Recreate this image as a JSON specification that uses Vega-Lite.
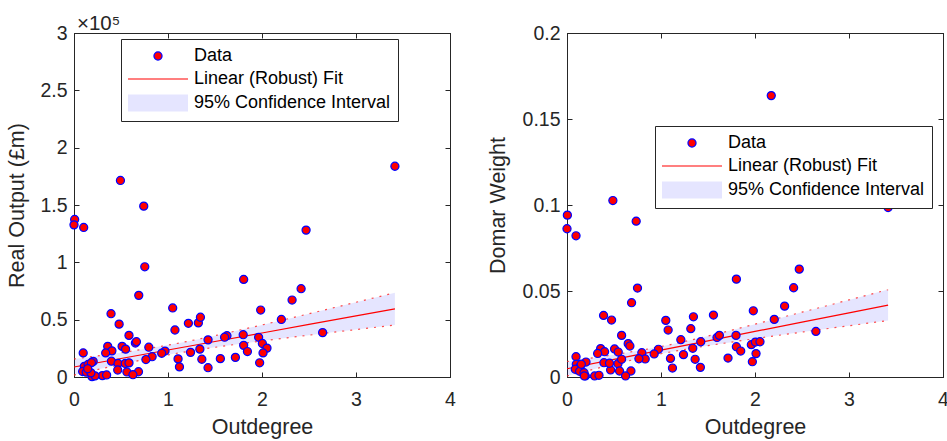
{
  "$schema": "https://vega.github.io/schema/vega-lite/v6.json",
  "padding": {"left": 6, "top": 13, "right": 0, "bottom": 0},
  "spacing": 30,
  "config": {
    "font": "Liberation Sans",
    "view": {"stroke": "#262626", "strokeWidth": 1},
    "axis": {
      "labelFont": "Liberation Sans", "titleFont": "Liberation Sans",
      "labelFontSize": 19.5, "titleFontSize": 21.5, "titleFontWeight": "normal",
      "labelColor": "#262626", "titleColor": "#262626",
      "domainColor": "#262626", "tickColor": "#262626",
      "gridColor": "#dfdfdf", "gridWidth": 1, "tickSize": -5,
      "labelFlush": false, "labelOverlap": false
    },
    "axisX": {"labelPadding": 18, "titlePadding": 8},
    "axisY": {"labelPadding": 12}
  },
  "datasets": {
    "outPts": [
      {"x":0.007,"y":137400,"series":"Data"},{"x":0.0,"y":132700,"series":"Data"},{"x":0.103,"y":130400,"series":"Data"},
      {"x":0.494,"y":171400,"series":"Data"},{"x":0.742,"y":149000,"series":"Data"},{"x":0.753,"y":96100,"series":"Data"},
      {"x":3.414,"y":183800,"series":"Data"},{"x":2.469,"y":128100,"series":"Data"},{"x":1.805,"y":85100,"series":"Data"},
      {"x":2.416,"y":77000,"series":"Data"},{"x":2.320,"y":67100,"series":"Data"},{"x":0.689,"y":71200,"series":"Data"},
      {"x":1.050,"y":60200,"series":"Data"},{"x":1.986,"y":58400,"series":"Data"},{"x":2.206,"y":50200,"series":"Data"},
      {"x":0.394,"y":55200,"series":"Data"},{"x":0.480,"y":46100,"series":"Data"},{"x":1.217,"y":46800,"series":"Data"},
      {"x":1.323,"y":47200,"series":"Data"},{"x":1.345,"y":52100,"series":"Data"},{"x":1.074,"y":41000,"series":"Data"},
      {"x":2.645,"y":38700,"series":"Data"},{"x":0.585,"y":36300,"series":"Data"},{"x":1.426,"y":32400,"series":"Data"},
      {"x":1.627,"y":36000,"series":"Data"},{"x":1.602,"y":34700,"series":"Data"},{"x":1.800,"y":36900,"series":"Data"},
      {"x":1.964,"y":34600,"series":"Data"},{"x":2.004,"y":29200,"series":"Data"},{"x":1.805,"y":27600,"series":"Data"},
      {"x":0.653,"y":29600,"series":"Data"},{"x":0.664,"y":30800,"series":"Data"},{"x":0.796,"y":26000,"series":"Data"},
      {"x":0.359,"y":26700,"series":"Data"},{"x":0.403,"y":22800,"series":"Data"},{"x":0.337,"y":21000,"series":"Data"},
      {"x":0.512,"y":26700,"series":"Data"},{"x":0.549,"y":24300,"series":"Data"},{"x":0.098,"y":21000,"series":"Data"},
      {"x":1.339,"y":24300,"series":"Data"},{"x":1.240,"y":21500,"series":"Data"},{"x":0.968,"y":22600,"series":"Data"},
      {"x":0.933,"y":20700,"series":"Data"},{"x":2.053,"y":25200,"series":"Data"},{"x":1.845,"y":22200,"series":"Data"},
      {"x":2.011,"y":21000,"series":"Data"},{"x":0.831,"y":17700,"series":"Data"},{"x":0.765,"y":15200,"series":"Data"},
      {"x":1.107,"y":15800,"series":"Data"},{"x":1.360,"y":15500,"series":"Data"},{"x":1.557,"y":16000,"series":"Data"},
      {"x":1.717,"y":17100,"series":"Data"},{"x":0.398,"y":13800,"series":"Data"},{"x":0.204,"y":13600,"series":"Data"},
      {"x":0.469,"y":11800,"series":"Data"},{"x":0.545,"y":11800,"series":"Data"},{"x":0.585,"y":12300,"series":"Data"},
      {"x":1.975,"y":12400,"series":"Data"},{"x":1.122,"y":8800,"series":"Data"},{"x":1.426,"y":8100,"series":"Data"},
      {"x":0.465,"y":6100,"series":"Data"},{"x":0.563,"y":4400,"series":"Data"},{"x":0.686,"y":4600,"series":"Data"},
      {"x":0.627,"y":2000,"series":"Data"},{"x":0.302,"y":1200,"series":"Data"},{"x":0.347,"y":1800,"series":"Data"},
      {"x":0.192,"y":300,"series":"Data"},{"x":0.224,"y":1000,"series":"Data"},{"x":0.110,"y":9300,"series":"Data"},
      {"x":0.150,"y":10900,"series":"Data"},{"x":0.185,"y":12500,"series":"Data"},{"x":0.092,"y":4800,"series":"Data"},
      {"x":0.130,"y":4200,"series":"Data"},{"x":0.180,"y":3600,"series":"Data"},{"x":0.146,"y":7200,"series":"Data"}
    ],
    "outFit": [
      {"x":0,"fit":8700,"lo":1700,"hi":15700},{"x":0.5,"fit":16130,"lo":11050,"hi":21210},
      {"x":1,"fit":23550,"lo":19300,"hi":27800},{"x":1.5,"fit":30980,"lo":25900,"hi":36060},
      {"x":2,"fit":38400,"lo":31400,"hi":45400},{"x":2.5,"fit":45830,"lo":36470,"hi":55190},
      {"x":3,"fit":53250,"lo":41350,"hi":65150},{"x":3.414,"fit":59400,"lo":45320,"hi":73480}
    ],
    "domPts": [
      {"x":2.173,"y":0.1636,"series":"Data"},{"x":0.488,"y":0.1026,"series":"Data"},{"x":3.416,"y":0.0985,"series":"Data"},
      {"x":0.004,"y":0.0941,"series":"Data"},{"x":0.0,"y":0.0862,"series":"Data"},{"x":0.096,"y":0.0821,"series":"Data"},
      {"x":0.736,"y":0.0906,"series":"Data"},{"x":0.750,"y":0.0517,"series":"Data"},{"x":1.802,"y":0.0569,"series":"Data"},
      {"x":2.471,"y":0.0627,"series":"Data"},{"x":2.411,"y":0.0519,"series":"Data"},{"x":2.315,"y":0.0412,"series":"Data"},
      {"x":0.687,"y":0.0432,"series":"Data"},{"x":0.389,"y":0.0358,"series":"Data"},{"x":0.474,"y":0.0331,"series":"Data"},
      {"x":1.051,"y":0.0329,"series":"Data"},{"x":1.076,"y":0.0273,"series":"Data"},{"x":1.345,"y":0.0350,"series":"Data"},
      {"x":1.558,"y":0.0360,"series":"Data"},{"x":1.982,"y":0.0385,"series":"Data"},{"x":2.205,"y":0.0335,"series":"Data"},
      {"x":2.648,"y":0.0265,"series":"Data"},{"x":1.317,"y":0.0281,"series":"Data"},{"x":0.581,"y":0.0242,"series":"Data"},
      {"x":1.211,"y":0.0217,"series":"Data"},{"x":1.423,"y":0.0205,"series":"Data"},{"x":1.596,"y":0.0230,"series":"Data"},
      {"x":1.621,"y":0.0242,"series":"Data"},{"x":1.798,"y":0.0242,"series":"Data"},{"x":1.961,"y":0.0188,"series":"Data"},
      {"x":2.004,"y":0.0203,"series":"Data"},{"x":2.053,"y":0.0205,"series":"Data"},{"x":1.802,"y":0.0176,"series":"Data"},
      {"x":1.848,"y":0.0151,"series":"Data"},{"x":2.011,"y":0.0136,"series":"Data"},{"x":1.972,"y":0.0089,"series":"Data"},
      {"x":1.338,"y":0.0167,"series":"Data"},{"x":1.239,"y":0.0130,"series":"Data"},{"x":0.973,"y":0.0161,"series":"Data"},
      {"x":0.927,"y":0.0134,"series":"Data"},{"x":0.796,"y":0.0141,"series":"Data"},{"x":0.832,"y":0.0105,"series":"Data"},
      {"x":0.765,"y":0.0106,"series":"Data"},{"x":1.101,"y":0.0108,"series":"Data"},{"x":1.122,"y":0.0052,"series":"Data"},
      {"x":1.363,"y":0.0103,"series":"Data"},{"x":1.419,"y":0.0056,"series":"Data"},{"x":1.713,"y":0.0110,"series":"Data"},
      {"x":0.651,"y":0.0194,"series":"Data"},{"x":0.669,"y":0.0180,"series":"Data"},{"x":0.358,"y":0.0165,"series":"Data"},
      {"x":0.400,"y":0.0147,"series":"Data"},{"x":0.326,"y":0.0137,"series":"Data"},{"x":0.506,"y":0.0163,"series":"Data"},
      {"x":0.545,"y":0.0145,"series":"Data"},{"x":0.096,"y":0.0118,"series":"Data"},{"x":0.393,"y":0.0083,"series":"Data"},
      {"x":0.464,"y":0.0041,"series":"Data"},{"x":0.542,"y":0.0077,"series":"Data"},{"x":0.581,"y":0.0103,"series":"Data"},
      {"x":0.559,"y":0.0035,"series":"Data"},{"x":0.680,"y":0.0035,"series":"Data"},{"x":0.623,"y":0.0006,"series":"Data"},
      {"x":0.294,"y":0.0006,"series":"Data"},{"x":0.340,"y":0.0010,"series":"Data"},{"x":0.195,"y":0.0006,"series":"Data"},
      {"x":0.099,"y":0.0074,"series":"Data"},{"x":0.142,"y":0.0064,"series":"Data"},{"x":0.202,"y":0.0087,"series":"Data"},
      {"x":0.088,"y":0.0045,"series":"Data"},{"x":0.134,"y":0.0033,"series":"Data"},{"x":0.181,"y":0.0025,"series":"Data"},
      {"x":0.184,"y":0.0006,"series":"Data"},{"x":0.152,"y":0.0074,"series":"Data"},{"x":0.452,"y":0.0080,"series":"Data"}
    ],
    "domFit": [
      {"x":0,"fit":0.0048,"lo":0.0006,"hi":0.0090},{"x":0.5,"fit":0.0102,"lo":0.0074,"hi":0.0130},
      {"x":1,"fit":0.0156,"lo":0.0135,"hi":0.0177},{"x":1.5,"fit":0.0210,"lo":0.0182,"hi":0.0238},
      {"x":2,"fit":0.0265,"lo":0.0223,"hi":0.0307},{"x":2.5,"fit":0.0319,"lo":0.0261,"hi":0.0377},
      {"x":3,"fit":0.0373,"lo":0.0298,"hi":0.0448},{"x":3.416,"fit":0.0418,"lo":0.0328,"hi":0.0508}
    ]
  },
  "hconcat": [
    {
      "width": 376, "height": 344,
      "title": {"text": "×10⁵", "anchor": "start", "frame": "group", "fontSize": 20.5, "fontWeight": "normal", "font": "Liberation Sans", "color": "#262626", "offset": -11.5, "dx": 3},
      "resolve": {"axis": {"x": "independent", "y": "independent"}},
      "layer": [
        {
          "data": {"name": "outFit"},
          "mark": {"type": "area", "color": "#0000ff", "opacity": 0.1, "interpolate": "monotone"},
          "encoding": {
            "x": {"field": "x", "type": "quantitative", "scale": {"domain": [0, 4]},
                  "axis": {"orient": "top", "labels": false, "title": null, "grid": false, "labelPadding": 0, "values": [0,1,2,3,4]}},
            "y": {"field": "lo", "type": "quantitative", "scale": {"domain": [0, 300000]},
                  "axis": {"orient": "right", "labels": false, "title": null, "grid": false, "labelPadding": 0, "values": [0,50000,100000,150000,200000,250000,300000]}},
            "y2": {"field": "hi"}
          }
        },
        {
          "data": {"name": "outFit"},
          "mark": {"type": "line", "color": "#ff0000", "strokeWidth": 1.2},
          "encoding": {
            "x": {"field": "x", "type": "quantitative", "axis": null},
            "y": {"field": "fit", "type": "quantitative", "axis": null}
          }
        },
        {
          "data": {"name": "outFit"},
          "mark": {"type": "line", "color": "#ff2020", "strokeWidth": 1.2, "strokeDash": [2, 6], "opacity": 0.8, "interpolate": "monotone"},
          "encoding": {
            "x": {"field": "x", "type": "quantitative", "axis": null},
            "y": {"field": "lo", "type": "quantitative", "axis": null}
          }
        },
        {
          "data": {"name": "outFit"},
          "mark": {"type": "line", "color": "#ff2020", "strokeWidth": 1.2, "strokeDash": [2, 6], "opacity": 0.8, "interpolate": "monotone"},
          "encoding": {
            "x": {"field": "x", "type": "quantitative", "axis": null},
            "y": {"field": "hi", "type": "quantitative", "axis": null}
          }
        },
        {
          "data": {"name": "outPts"},
          "mark": {"type": "point", "filled": true, "size": 324, "strokeWidth": 1.2, "opacity": 1},
          "encoding": {
            "x": {"field": "x", "type": "quantitative",
                  "axis": {"orient": "bottom", "title": "Outdegree", "values": [0,1,2,3,4], "format": "d"}},
            "y": {"field": "y", "type": "quantitative",
                  "axis": {"orient": "left", "title": "Real Output (£m)", "titlePadding": 11, "values": [0,50000,100000,150000,200000,250000,300000], "labelExpr": "format(datum.value/100000, '~g')"}},
            "fill": {"field": "series", "type": "nominal",
                     "scale": {"domain": ["Data", "Linear (Robust) Fit", "95% Confidence Interval"], "range": ["#ff0000", "transparent", "#e5e5ff"]},
                     "legend": {"orient": "none", "legendX": 47, "legendY": 6, "title": null, "symbolSize": 324, "symbolStrokeWidth": 1.2, "labelFontSize": 18, "labelFont": "Liberation Sans", "labelColor": "#000000", "labelOffset": 26, "symbolOffset": 20, "padding": 7, "rowPadding": 4, "strokeColor": "#262626", "fillColor": "#ffffff", "labelLimit": 400, "cornerRadius": 0}},
            "stroke": {"field": "series", "type": "nominal",
                     "scale": {"domain": ["Data", "Linear (Robust) Fit", "95% Confidence Interval"], "range": ["#0000ff", "#ff0000", "transparent"]},
                     "legend": {"orient": "none", "legendX": 47, "legendY": 6, "title": null, "symbolSize": 324, "symbolStrokeWidth": 1.2, "labelFontSize": 18, "labelFont": "Liberation Sans", "labelColor": "#000000", "labelOffset": 26, "symbolOffset": 20, "padding": 7, "rowPadding": 4, "strokeColor": "#262626", "fillColor": "#ffffff", "labelLimit": 400, "cornerRadius": 0}},
            "shape": {"field": "series", "type": "nominal",
                     "scale": {"domain": ["Data", "Linear (Robust) Fit", "95% Confidence Interval"], "range": ["M-0.45,0A0.45,0.45,0,1,0,0.45,0A0.45,0.45,0,1,0,-0.45,0Z", "M-3.333,0H3.333", "M-3.333,-0.944H3.333V0.944H-3.333Z"]},
                     "legend": {"orient": "none", "legendX": 47, "legendY": 6, "title": null, "symbolSize": 324, "symbolStrokeWidth": 1.2, "labelFontSize": 18, "labelFont": "Liberation Sans", "labelColor": "#000000", "labelOffset": 26, "symbolOffset": 20, "padding": 7, "rowPadding": 4, "strokeColor": "#262626", "fillColor": "#ffffff", "labelLimit": 400, "cornerRadius": 0}}
          }
        }
      ]
    },
    {
      "width": 376, "height": 344,
      "resolve": {"axis": {"x": "independent", "y": "independent"}},
      "layer": [
        {
          "data": {"name": "domFit"},
          "mark": {"type": "area", "color": "#0000ff", "opacity": 0.1, "interpolate": "monotone"},
          "encoding": {
            "x": {"field": "x", "type": "quantitative", "scale": {"domain": [0, 4]},
                  "axis": {"orient": "top", "labels": false, "title": null, "grid": false, "labelPadding": 0, "values": [0,1,2,3,4]}},
            "y": {"field": "lo", "type": "quantitative", "scale": {"domain": [0, 0.2]},
                  "axis": {"orient": "right", "labels": false, "title": null, "grid": false, "labelPadding": 0, "values": [0,0.05,0.1,0.15,0.2]}},
            "y2": {"field": "hi"}
          }
        },
        {
          "data": {"name": "domFit"},
          "mark": {"type": "line", "color": "#ff0000", "strokeWidth": 1.2},
          "encoding": {
            "x": {"field": "x", "type": "quantitative", "axis": null},
            "y": {"field": "fit", "type": "quantitative", "axis": null}
          }
        },
        {
          "data": {"name": "domFit"},
          "mark": {"type": "line", "color": "#ff2020", "strokeWidth": 1.2, "strokeDash": [2, 6], "opacity": 0.8, "interpolate": "monotone"},
          "encoding": {
            "x": {"field": "x", "type": "quantitative", "axis": null},
            "y": {"field": "lo", "type": "quantitative", "axis": null}
          }
        },
        {
          "data": {"name": "domFit"},
          "mark": {"type": "line", "color": "#ff2020", "strokeWidth": 1.2, "strokeDash": [2, 6], "opacity": 0.8, "interpolate": "monotone"},
          "encoding": {
            "x": {"field": "x", "type": "quantitative", "axis": null},
            "y": {"field": "hi", "type": "quantitative", "axis": null}
          }
        },
        {
          "data": {"name": "domPts"},
          "mark": {"type": "point", "filled": true, "size": 324, "strokeWidth": 1.2, "opacity": 1},
          "encoding": {
            "x": {"field": "x", "type": "quantitative",
                  "axis": {"orient": "bottom", "title": "Outdegree", "values": [0,1,2,3,4], "format": "d"}},
            "y": {"field": "y", "type": "quantitative",
                  "axis": {"orient": "left", "title": "Domar Weight", "titlePadding": 13, "values": [0,0.05,0.1,0.15,0.2], "format": "~g"}},
            "fill": {"field": "series", "type": "nominal",
                     "scale": {"domain": ["Data", "Linear (Robust) Fit", "95% Confidence Interval"], "range": ["#ff0000", "transparent", "#e5e5ff"]},
                     "legend": {"orient": "none", "legendX": 88, "legendY": 93, "title": null, "symbolSize": 324, "symbolStrokeWidth": 1.2, "labelFontSize": 18, "labelFont": "Liberation Sans", "labelColor": "#000000", "labelOffset": 26, "symbolOffset": 20, "padding": 7, "rowPadding": 4, "strokeColor": "#262626", "fillColor": "#ffffff", "labelLimit": 400, "cornerRadius": 0}},
            "stroke": {"field": "series", "type": "nominal",
                     "scale": {"domain": ["Data", "Linear (Robust) Fit", "95% Confidence Interval"], "range": ["#0000ff", "#ff0000", "transparent"]},
                     "legend": {"orient": "none", "legendX": 88, "legendY": 93, "title": null, "symbolSize": 324, "symbolStrokeWidth": 1.2, "labelFontSize": 18, "labelFont": "Liberation Sans", "labelColor": "#000000", "labelOffset": 26, "symbolOffset": 20, "padding": 7, "rowPadding": 4, "strokeColor": "#262626", "fillColor": "#ffffff", "labelLimit": 400, "cornerRadius": 0}},
            "shape": {"field": "series", "type": "nominal",
                     "scale": {"domain": ["Data", "Linear (Robust) Fit", "95% Confidence Interval"], "range": ["M-0.45,0A0.45,0.45,0,1,0,0.45,0A0.45,0.45,0,1,0,-0.45,0Z", "M-3.333,0H3.333", "M-3.333,-0.944H3.333V0.944H-3.333Z"]},
                     "legend": {"orient": "none", "legendX": 88, "legendY": 93, "title": null, "symbolSize": 324, "symbolStrokeWidth": 1.2, "labelFontSize": 18, "labelFont": "Liberation Sans", "labelColor": "#000000", "labelOffset": 26, "symbolOffset": 20, "padding": 7, "rowPadding": 4, "strokeColor": "#262626", "fillColor": "#ffffff", "labelLimit": 400, "cornerRadius": 0}}
          }
        }
      ]
    }
  ],
  "resolve": {"scale": {"fill": "independent", "stroke": "independent", "shape": "independent"}}
}
